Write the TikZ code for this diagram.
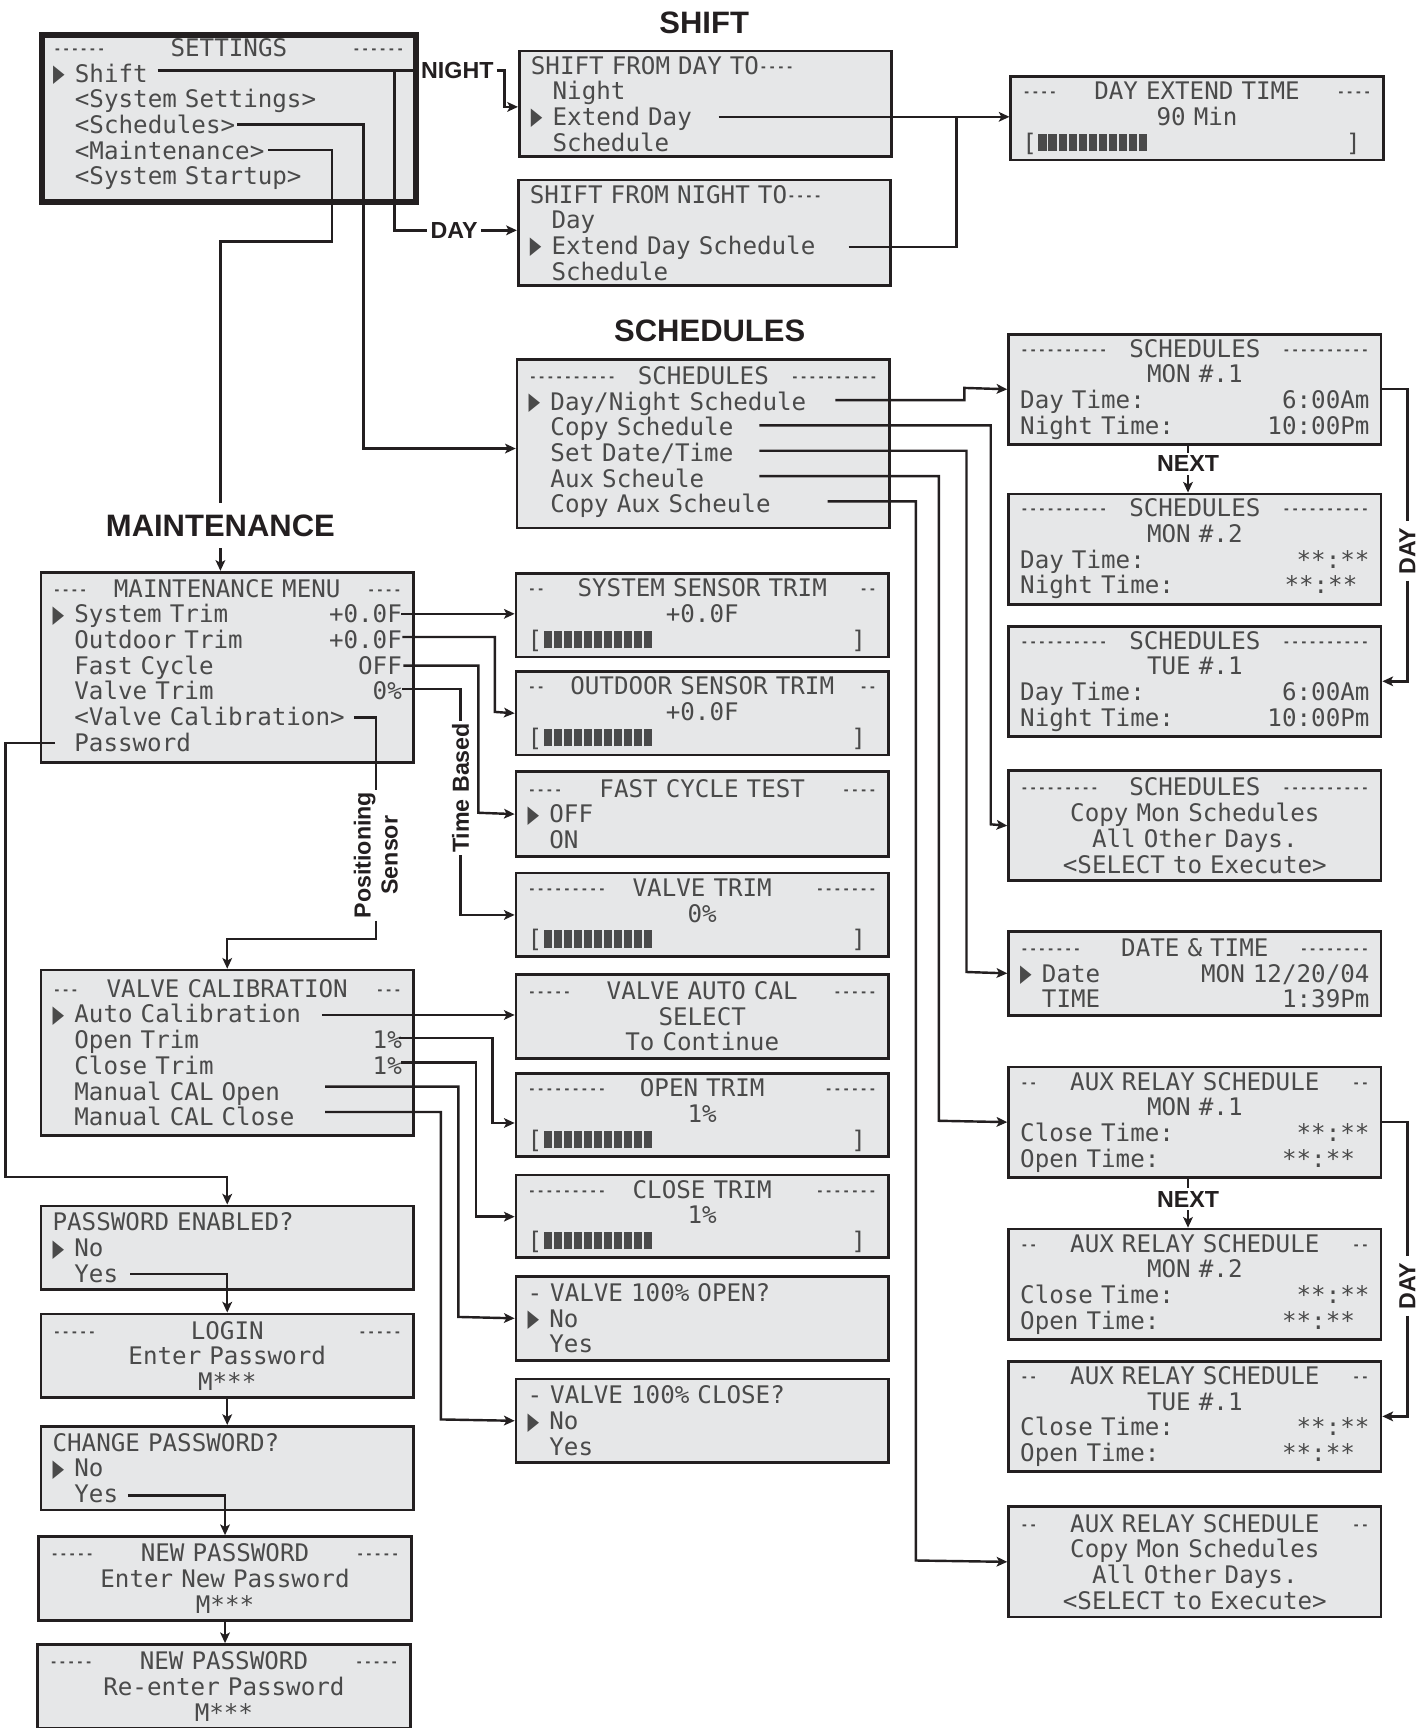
\documentclass[tikz,border=0pt]{standalone}
\usepackage{fontspec}
\usepackage{graphicx}
\setmonofont{DejaVu Sans Mono}
\setsansfont{Liberation Sans}
\newfontfamily\symfont{DejaVu Sans}
\usetikzlibrary{arrows.meta}
\definecolor{ink}{HTML}{231F20}
\definecolor{lcdfill}{HTML}{E6E7E8}
\definecolor{lcdtext}{HTML}{4A4A4A}
\newcommand\sx[1]{\scalebox{0.6}[1]{#1}}
\newcommand\hd[3]{\makebox[\hsize]{\rlap{\sx{#1}}\hfill#2\hfill\llap{\sx{#3}}}}
\newcommand\ctrline[1]{\makebox[\hsize]{#1}}
\newcommand\ind{\hspace*{0.9em}}
\newcommand\sel{\makebox[0.9em][l]{\symfont\raisebox{0.02em}{\scalebox{0.62}[1]{▶}}}}
\newcommand\blk{\rule{0.34em}{0.72em}\hspace{0.075em}}
\newcommand\lcdbar{\makebox[\hsize][l]{[\kern0.06em\blk\blk\blk\blk\blk\blk\blk\blk\blk\blk\blk\hfill]\hspace*{0.45em}}}
\begin{document}
\begin{tikzpicture}[x=0.02cm,y=-0.02cm,
  lcd/.style={draw=ink, fill=lcdfill, line width=1.4pt, anchor=north west, inner xsep=0.21cm, inner ysep=0pt, text width=6.34cm, align=left, font=\ttfamily\fontsize{12.5}{13.26}\selectfont, text=lcdtext},
  h3/.style={minimum height=1.52cm},
  h4/.style={minimum height=2cm},
  conn/.style={draw=ink, line width=1.25pt},
  arr/.style={conn, -{Stealth[length=5.5pt,width=5pt,inset=1.3pt]}},
  lab/.style={font=\sffamily\bfseries\fontsize{12}{14}\selectfont, text=ink, inner sep=1.5pt},
  big/.style={font=\sffamily\bfseries\fontsize{16}{19}\selectfont, text=ink}]
\fill[white] (0,0) rectangle (1288,1568);
\useasboundingbox (0,0) rectangle (1288,1568);

% ---------- left column
\node[lcd, line width=3.1pt, minimum height=3.04cm, text width=6.38cm] (set) at (35,29) {\hd{------}{SETTINGS}{------}\\ \sel Shift\\ \ind<System Settings>\\ \ind<Schedules>\\ \ind<Maintenance>\\ \ind<System Startup>\par\vspace*{0.16cm}};
\node[lcd, minimum height=3.46cm] (mm) at (36,518) {\hd{----}{MAINTENANCE MENU}{----}\\ \sel System Trim\hfill +0.0F\\ \ind Outdoor Trim\hfill +0.0F\\ \ind Fast Cycle\hfill OFF\\ \ind Valve Trim\hfill 0\%\\ \ind<Valve Calibration>\\ \ind Password\par\vspace*{0.08cm}};
\node[lcd, minimum height=3.0cm] (vcb) at (36,879) {\hd{---}{VALVE CALIBRATION}{---}\\ \sel Auto Calibration\\ \ind Open Trim\hfill 1\%\\ \ind Close Trim\hfill 1\%\\ \ind Manual CAL Open\\ \ind Manual CAL Close};
\node[lcd, h3] (pe) at (36,1093) {PASSWORD ENABLED?\\ \sel No\\ \ind Yes};
\node[lcd, h3] (lg) at (36,1191) {\hd{-----}{LOGIN}{-----}\\ \ctrline{Enter Password}\\ \ctrline{M***}};
\node[lcd, h3] (cp) at (36,1293) {CHANGE PASSWORD?\\ \sel No\\ \ind Yes};
\node[lcd, h3] (np1) at (34,1393) {\hd{-----}{NEW PASSWORD}{-----}\\ \ctrline{Enter New Password}\\ \ctrline{M***}};
\node[lcd, h3] (np2) at (33,1491) {\hd{-----}{NEW PASSWORD}{-----}\\ \ctrline{Re-enter Password}\\ \ctrline{M***}};

% ---------- middle column
\node[lcd, minimum height=1.92cm] (sfd) at (470,45) {SHIFT FROM DAY TO\sx{----}\\ \ind Night\\ \sel Extend Day\\ \ind Schedule};
\node[lcd, minimum height=1.92cm] (sfn) at (469,162) {SHIFT FROM NIGHT TO\sx{----}\\ \ind Day\\ \sel Extend Day Schedule\\ \ind Schedule};
\node[lcd, minimum height=3.06cm] (sch) at (468,325) {\hd{----------}{SCHEDULES}{----------}\\ \sel Day/Night Schedule\\ \ind Copy Schedule\\ \ind Set Date/Time\\ \ind Aux Scheule\\ \ind Copy Aux Scheule\par\vspace*{0.06cm}};
\node[lcd, h3] (sst) at (467,519) {\hd{--}{SYSTEM SENSOR TRIM}{--}\\ \ctrline{+0.0F}\\ \lcdbar};
\node[lcd, h3] (ost) at (467,608) {\hd{--}{OUTDOOR SENSOR TRIM}{--}\\ \ctrline{+0.0F}\\ \lcdbar};
\node[lcd, minimum height=1.54cm] (fct) at (467,699) {\hd{----}{FAST CYCLE TEST}{----}\\ \sel OFF\\ \ind ON};
\node[lcd, h3] (vt) at (467,791) {\hd{---------}{VALVE TRIM}{-------}\\ \ctrline{0\%}\\ \lcdbar};
\node[lcd, h3] (vac) at (467,883) {\hd{-----}{VALVE AUTO CAL}{-----}\\ \ctrline{SELECT}\\ \ctrline{To Continue}};
\node[lcd, minimum height=1.5cm] (otr) at (467,973) {\hd{---------}{OPEN TRIM}{------}\\ \ctrline{1\%}\\ \lcdbar};
\node[lcd, minimum height=1.5cm] (ctr) at (467,1065) {\hd{---------}{CLOSE TRIM}{-------}\\ \ctrline{1\%}\\ \lcdbar};
\node[lcd, h3] (vo) at (467,1157) {- VALVE 100\% OPEN?\\ \sel No\\ \ind Yes};
\node[lcd, h3] (vcl) at (467,1250) {- VALVE 100\% CLOSE?\\ \sel No\\ \ind Yes};

% ---------- right column
\node[lcd, h3] (det) at (916,68) {\hd{----}{DAY EXTEND TIME}{----}\\ \ctrline{90 Min}\\ \lcdbar};
\node[lcd, h4] (m1) at (914,302) {\hd{----------}{SCHEDULES}{----------}\\ \ctrline{MON \#.1}\\ Day Time:\hfill 6:00Am\\ Night Time:\hfill 10:00Pm};
\node[lcd, h4] (m2) at (914,447) {\hd{----------}{SCHEDULES}{----------}\\ \ctrline{MON \#.2}\\ Day Time:\hfill **:**\ind\\ Night Time:\hfill **:**\hspace*{0.5em}};
\node[lcd, h4] (tue) at (914,567) {\hd{----------}{SCHEDULES}{----------}\\ \ctrline{TUE \#.1}\\ Day Time:\hfill 6:00Am\\ Night Time:\hfill 10:00Pm};
\node[lcd, h4] (cpy) at (914,698) {\hd{---------}{SCHEDULES}{----------}\\ \ctrline{Copy Mon Schedules}\\ \ctrline{All Other Days.}\\ \ctrline{<SELECT to Execute>}};
\node[lcd, h3] (dt) at (914,844) {\hd{-------}{DATE \& TIME}{--------}\\ \sel Date\hfill MON 12/20/04\\ \ind TIME\hfill 1:39Pm};
\node[lcd, h4] (a1) at (914,967) {\hd{--}{AUX RELAY SCHEDULE}{--}\\ \ctrline{MON \#.1}\\ Close Time:\hfill **:**\hspace*{0.6em}\\ Open Time:\hfill **:**\hspace*{0.6em}};
\node[lcd, h4] (a2) at (914,1114) {\hd{--}{AUX RELAY SCHEDULE}{--}\\ \ctrline{MON \#.2}\\ Close Time:\hfill **:**\hspace*{0.6em}\\ Open Time:\hfill **:**\hspace*{0.6em}};
\node[lcd, h4] (a3) at (914,1234) {\hd{--}{AUX RELAY SCHEDULE}{--}\\ \ctrline{TUE \#.1}\\ Close Time:\hfill **:**\hspace*{0.6em}\\ Open Time:\hfill **:**\hspace*{0.6em}};
\node[lcd, h4] (ac) at (914,1366) {\hd{--}{AUX RELAY SCHEDULE}{--}\\ \ctrline{Copy Mon Schedules}\\ \ctrline{All Other Days.}\\ \ctrline{<SELECT to Execute>}};

% ---------- labels
\node[big] (lShift) at (639,21) {SHIFT};
\node[big] (lSched) at (644,300) {SCHEDULES};
\node[big, inner ysep=0.2cm] (lMaint) at (200,477) {MAINTENANCE};
\node[lab] (lNight) at (415,64) {NIGHT};
\node[lab] (lDayA) at (412,209) {DAY};
\node[lab] (lNext1) at (1078,421) {NEXT};
\node[lab] (lNext2) at (1078,1088) {NEXT};
\node[lab, rotate=90, inner xsep=3pt, inner ysep=0.5pt] (lDayR1) at (1277,500) {DAY};
\node[lab, rotate=90, inner xsep=3pt, inner ysep=0.5pt] (lDayR2) at (1277,1167) {DAY};
\node[lab, rotate=90, inner sep=1pt] (lTime) at (418,715) {Time Based};
\node[lab, rotate=90, inner sep=1pt, align=center] (lPos) at (341,776) {Positioning\\Sensor};

% ---------- connectors: settings
\coordinate (shOut) at (143,64);
\coordinate (shJ) at (358,64);
\coordinate (yN) at (0,97);
\draw[conn] (shOut) -- (lNight.west);
\draw[conn] (shJ) |- (lDayA.west);
\draw[arr] (lNight.east) -- ++(7,0) |- (sfd.west |- yN);
\draw[arr] (lDayA.east) -- (lDayA.east -| sfn.west);
\coordinate (schOut) at (215,113);
\coordinate (schJ) at (330,113);
\coordinate (yS) at (0,407);
\draw[arr] (schOut) -- (schJ) |- (sch.west |- yS);
\coordinate (mtOut) at (243,136);
\draw[conn] (mtOut) -- (301,136) -- (301,219) -- (200,219) -- (lMaint.north);
\draw[arr] (lMaint.south) -- (lMaint.south |- mm.north);

% shift
\coordinate (edOut) at (652,106);
\coordinate (edsOut) at (770,224);
\coordinate (edJ) at (868,106);
\draw[arr] (edOut) -- (edOut -| det.west);
\draw[conn] (edsOut) -| (edJ);

% schedules
\coordinate (dnOut) at (758,363);
\coordinate (dnJ) at (875,352);
\draw[arr] (dnOut) -| (dnJ) -- (m1.west);
\coordinate (csOut) at (689,386);
\draw[arr] (csOut) -| (899,748) -- (cpy.west);
\coordinate (sdOut) at (689,409);
\draw[arr] (sdOut) -| (877,882) -- (dt.west);
\coordinate (asOut) at (689,432);
\draw[arr] (asOut) -| (852,1017) -- (a1.west);
\coordinate (caOut) at (751,455);
\draw[arr] (caOut) -| (831,1416) -- (ac.west);

\draw[conn] (m1.south -| lNext1) -- (lNext1.north);
\draw[arr] (lNext1.south) -- (lNext1.south |- m2.north);
\draw[conn] (a1.south -| lNext2) -- (lNext2.north);
\draw[arr] (lNext2.south) -- (lNext2.south |- a2.north);
\draw[conn] (m1.east) -| (lDayR1.east);
\draw[arr] (lDayR1.west) |- (tue.east);
\draw[conn] (a1.east) -| (lDayR2.east);
\draw[arr] (lDayR2.west) |- (a3.east);

% maintenance
\coordinate (stOut) at (364,557);
\draw[arr] (stOut) -- (stOut -| sst.west);
\coordinate (otOut) at (365,578);
\draw[arr] (otOut) -| (449,646) -- (ost.west);
\coordinate (fcOut) at (366,604);
\draw[arr] (fcOut) -| (434,737.5) -- (fct.west);
\coordinate (vtOut) at (365,625);
\draw[conn] (vtOut) -| (lTime.east);
\draw[arr] (lTime.west) |- (vt.west);
\coordinate (vcOut) at (321,651);
\coordinate (yV) at (0,852);
\draw[conn] (vcOut) -| (lPos.east);
\draw[arr] (lPos.west) |- (vcb.north |- yV) -- (vcb.north);
\coordinate (pwOut) at (50,674);
\draw[arr] (pwOut) -| (5,1068) -| (pe.north);

% valve calibration
\coordinate (acOut) at (292,921);
\draw[arr] (acOut) -- (acOut -| vac.west);
\coordinate (otrOut) at (362,942);
\coordinate (otrJ) at (447,1019);
\draw[arr] (otrOut) -| (otrJ) -- (otrJ -| otr.west);
\coordinate (ctrOut) at (364,964);
\coordinate (ctrJ) at (432,1104);
\draw[arr] (ctrOut) -| (ctrJ) -- (ctrJ -| ctr.west);
\coordinate (mcoOut) at (295,986);
\draw[arr] (mcoOut) -| (416,1195) -- (vo.west);
\coordinate (mccOut) at (295,1009);
\draw[arr] (mccOut) -| (400,1288) -- (vcl.west);

% password
\coordinate (yesA) at (118,1156);
\draw[arr] (yesA) -| (lg.north);
\draw[arr] (lg.south) -- (lg.south |- cp.north);
\coordinate (yesB) at (116,1357);
\draw[arr] (yesB) -| (np1.north);
\draw[arr] (np1.south) -- (np1.south |- np2.north);
\end{tikzpicture}
\end{document}
